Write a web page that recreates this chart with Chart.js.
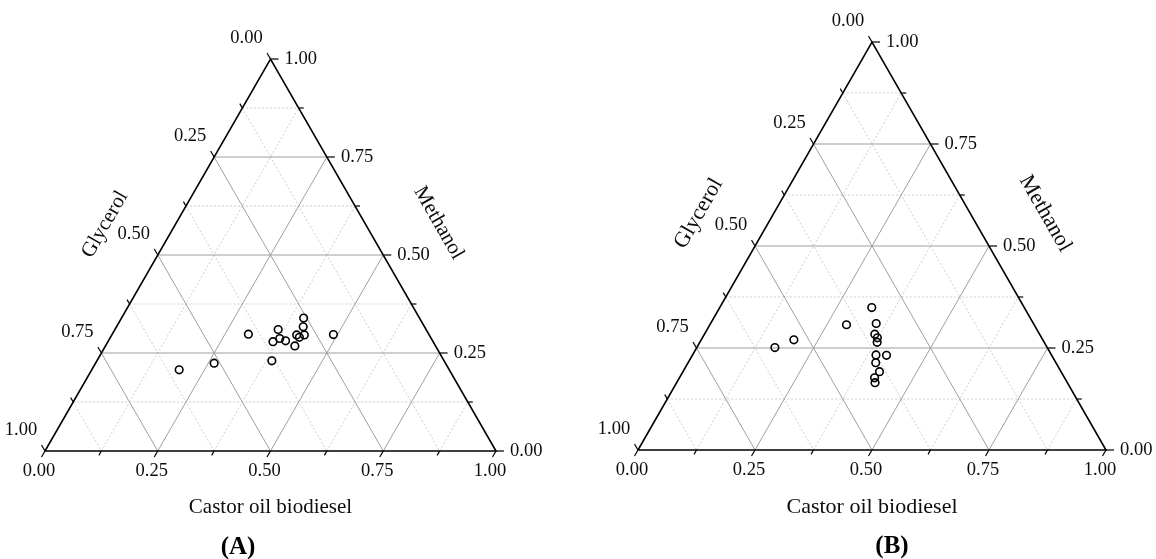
<!DOCTYPE html>
<html>
<head>
<meta charset="utf-8">
<script src="https://cdn.jsdelivr.net/npm/chart.js@4.4.1/dist/chart.umd.min.js"></script>
<style>
  body { margin: 0; background: #fff; }
  #wrap { position: relative; width: 1156px; height: 559px; overflow: hidden; }
  canvas { position: absolute; top: 0; }
  .tag { position: absolute; font: bold 25px "Liberation Serif", serif; color: #000; transform: translate(-50%, -50%); }
</style>
</head>
<body>
<div id="wrap">
  <canvas id="chartA" width="578" height="559" style="left:0"></canvas>
  <canvas id="chartB" width="578" height="559" style="left:578px"></canvas>
  <div class="tag" style="left:238px; top:546px">(A)</div>
  <div class="tag" style="left:892px; top:545px">(B)</div>
</div>
<script>
// ternary compositions (fractions)
const castorA   = [0.194, 0.263, 0.302, 0.388, 0.362, 0.366, 0.377, 0.393, 0.410, 0.419, 0.420, 0.427, 0.414, 0.404, 0.491];
const methanolA = [0.207, 0.224, 0.298, 0.230, 0.310, 0.279, 0.287, 0.281, 0.296, 0.290, 0.268, 0.296, 0.317, 0.339, 0.297];
const glycerolA = [0.599, 0.513, 0.400, 0.382, 0.328, 0.355, 0.336, 0.326, 0.294, 0.291, 0.312, 0.277, 0.269, 0.257, 0.212];

const castorB   = [0.167, 0.198, 0.292, 0.325, 0.354, 0.364, 0.374, 0.379, 0.392, 0.415, 0.401, 0.420, 0.417, 0.424];
const methanolB = [0.251, 0.270, 0.307, 0.349, 0.310, 0.284, 0.275, 0.264, 0.233, 0.232, 0.214, 0.192, 0.177, 0.165];
const glycerolB = [0.582, 0.532, 0.401, 0.326, 0.336, 0.352, 0.351, 0.357, 0.375, 0.353, 0.385, 0.388, 0.406, 0.411];

const majorTicks = [0, 0.25, 0.5, 0.75, 1];
const tickLabels = ['0.00', '0.25', '0.50', '0.75', '1.00'];
const minorTicks = [0.125, 0.375, 0.625, 0.875];

const serif = '"Liberation Serif", "Times New Roman", serif';

// composition -> cartesian data coords (x along bottom, y = methanol height)
function toXY(c, m, g) {
  const s = c + m + g;
  c /= s; m /= s;
  return { x: c + m / 2, y: m };
}

function points(cs, ms, gs) {
  return cs.map((c, i) => toXY(c, ms[i], gs[i]));
}

const ternaryPlugin = {
  id: 'ternary',
  beforeDatasetsDraw(chart) {
    const ctx = chart.ctx;
    const pt = (c, m) => ({ x: chart.scales.x.getPixelForValue(c + m / 2), y: chart.scales.y.getPixelForValue(m) });
    const line = (a, b) => { ctx.beginPath(); ctx.moveTo(a.x, a.y); ctx.lineTo(b.x, b.y); ctx.stroke(); };

    ctx.save();
    ctx.lineWidth = 1;
    // minor grid, dotted
    ctx.strokeStyle = '#cccccc';
    ctx.setLineDash([2, 2]);
    minorTicks.forEach(v => {
      line(pt(0, v), pt(1 - v, v));
      line(pt(v, 0), pt(v, 1 - v));
      line(pt(0, 1 - v), pt(1 - v, 0));
    });
    // major grid
    ctx.setLineDash([]);
    ctx.strokeStyle = '#9e9e9e';
    [0.25, 0.5, 0.75].forEach(v => {
      line(pt(0, v), pt(1 - v, v));
      line(pt(v, 0), pt(v, 1 - v));
      line(pt(0, 1 - v), pt(1 - v, 0));
    });
    // frame
    ctx.strokeStyle = '#000';
    ctx.lineWidth = 1.6;
    ctx.beginPath();
    const a = pt(0, 0), b = pt(1, 0), t = pt(0, 1);
    ctx.moveTo(a.x, a.y); ctx.lineTo(b.x, b.y); ctx.lineTo(t.x, t.y); ctx.closePath();
    ctx.stroke();
    ctx.restore();
  },
  afterDraw(chart, args, opts) {
    const ctx = chart.ctx;
    const pt = (c, m) => ({ x: chart.scales.x.getPixelForValue(c + m / 2), y: chart.scales.y.getPixelForValue(m) });
    const a = pt(0, 0), b = pt(1, 0), t = pt(0, 1);
    const unit = (p, q) => { const dx = q.x - p.x, dy = q.y - p.y, l = Math.hypot(dx, dy); return { x: dx / l, y: dy / l }; };
    const dBottom = unit(t, a);   // down-left
    const dLeft = unit(b, t);     // up-left
    const dRight = unit(a, b);    // right

    ctx.save();
    ctx.strokeStyle = '#000';
    ctx.lineWidth = 1.2;
    const tick = (p, d, len) => { ctx.beginPath(); ctx.moveTo(p.x, p.y); ctx.lineTo(p.x + d.x * len, p.y + d.y * len); ctx.stroke(); };

    minorTicks.forEach(v => {
      tick(pt(v, 0), dBottom, 5);
      tick(pt(0, 1 - v), dLeft, 5);
      tick(pt(1 - v, v), dRight, 5);
    });
    majorTicks.forEach(v => {
      tick(pt(v, 0), dBottom, 7);
      tick(pt(0, 1 - v), dLeft, 7);
      tick(pt(1 - v, v), dRight, 8);
    });

    ctx.fillStyle = '#0d0d0d';
    ctx.font = opts.tickSize + 'px ' + serif;
    ctx.textBaseline = 'middle';
    majorTicks.forEach((v, i) => {
      let p = pt(v, 0);
      ctx.textAlign = 'center';
      ctx.fillText(tickLabels[i], p.x - 6, p.y + 20);
      p = pt(0, 1 - v);
      ctx.fillText(tickLabels[i], p.x - 24, p.y - 21);
      p = pt(1 - v, v);
      ctx.textAlign = 'left';
      ctx.fillText(tickLabels[i], p.x + 14, p.y);
    });

    // axis titles
    ctx.font = opts.titleSize + 'px ' + serif;
    ctx.textAlign = 'center';
    const mid = (p, q) => ({ x: (p.x + q.x) / 2, y: (p.y + q.y) / 2 });
    const ml = mid(a, t), mr = mid(b, t);

    ctx.save();
    ctx.translate(ml.x - 0.866 * opts.leftGap, ml.y - 0.5 * opts.leftGap);
    ctx.rotate(Math.atan2(t.y - a.y, t.x - a.x));
    ctx.fillText(opts.leftTitle, 0, 0);
    ctx.restore();

    ctx.save();
    ctx.translate(mr.x + 0.866 * opts.rightGap, mr.y - 0.5 * opts.rightGap);
    ctx.rotate(Math.atan2(b.y - t.y, b.x - t.x));
    ctx.fillText(opts.rightTitle, 0, 0);
    ctx.restore();

    ctx.fillText(opts.bottomTitle, (a.x + b.x) / 2, a.y + opts.bottomGap);
    ctx.restore();
  }
};

function makeChart(id, data, padding, titleOpts) {
  return new Chart(document.getElementById(id), {
    type: 'scatter',
    data: {
      datasets: [{
        data: data,
        pointRadius: 3.8,
        pointHoverRadius: 4,
        borderWidth: 1.6,
        borderColor: '#000',
        backgroundColor: 'rgba(0,0,0,0)',
        clip: false
      }]
    },
    options: {
      responsive: false,
      animation: false,
      layout: { padding: padding },
      scales: {
        x: { type: 'linear', min: 0, max: 1, display: false },
        y: { type: 'linear', min: 0, max: 1, display: false }
      },
      plugins: {
        legend: { display: false },
        tooltip: { enabled: false },
        ternary: titleOpts
      }
    },
    plugins: [ternaryPlugin]
  });
}

makeChart('chartA', points(castorA, methanolA, glycerolA),
  { left: 45, right: 82, top: 59, bottom: 108 },
  { leftTitle: 'Glycerol', rightTitle: 'Methanol', bottomTitle: 'Castor oil biodiesel',
    tickSize: 18.5, titleSize: 21, leftGap: 61, rightGap: 64, bottomGap: 56 });

makeChart('chartB', points(castorB, methanolB, glycerolB),
  { left: 60, right: 50, top: 42, bottom: 109 },
  { leftTitle: 'Glycerol', rightTitle: 'Methanol', bottomTitle: 'Castor oil biodiesel',
    tickSize: 18.5, titleSize: 22, leftGap: 65, rightGap: 65, bottomGap: 57 });
</script>
</body>
</html>
